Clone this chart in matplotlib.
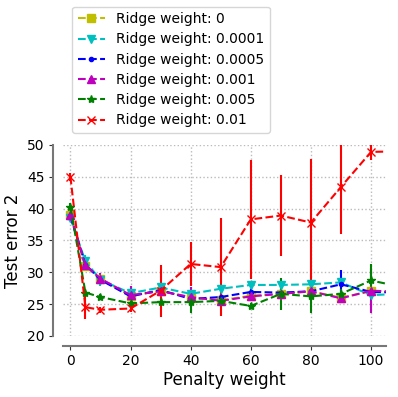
import matplotlib
matplotlib.use("Agg")
import matplotlib.pyplot as plt
from matplotlib.lines import Line2D

# penalty weights (last point lies past the visible range)
penalty = [0, 5, 10, 20, 30, 40, 50, 60, 70, 80, 90, 100, 110]

labels = ['Ridge weight: 0', 'Ridge weight: 0.0001', 'Ridge weight: 0.0005',
          'Ridge weight: 0.001', 'Ridge weight: 0.005', 'Ridge weight: 0.01']

err_r0 = [39.0, 31.0, 28.9, 26.3, 27.1, 26.0, 25.6, 26.3, 26.6, 27.0, 26.0, 27.0, 26.9]
std_r0 = [0.5, 0.6, 0.6, 0.5, 0.5, 0.5, 0.5, 0.5, 0.5, 0.5, 0.5, 0.5, 0.5]

err_r1 = [38.5, 31.7, 28.8, 26.7, 27.6, 26.6, 27.4, 28.0, 28.0, 28.1, 28.4, 26.4, 26.6]
std_r1 = [0.5, 1.0, 1.0, 1.2, 0.5, 0.6, 0.5, 0.6, 0.5, 0.5, 0.5, 0.5, 0.5]

err_r2 = [38.8, 31.2, 28.8, 26.2, 27.2, 25.8, 26.1, 26.9, 26.8, 27.0, 28.1, 26.9, 26.8]
std_r2 = [0.5, 0.6, 0.6, 0.5, 0.5, 0.5, 0.5, 0.5, 0.5, 0.5, 2.2, 0.5, 0.5]

err_r3 = [39.0, 31.1, 29.0, 26.4, 27.0, 26.1, 25.5, 26.2, 26.6, 27.0, 25.9, 27.1, 26.9]
std_r3 = [0.5, 0.8, 0.8, 1.5, 0.5, 1.5, 1.0, 0.7, 0.6, 0.5, 0.6, 3.5, 0.5]

err_r4 = [40.3, 26.8, 26.1, 25.1, 25.3, 25.3, 25.5, 24.7, 26.6, 26.2, 26.6, 28.7, 27.7]
std_r4 = [0.5, 0.5, 0.4, 0.5, 0.6, 1.7, 0.8, 0.5, 2.5, 2.6, 0.7, 2.6, 0.5]

err_r5 = [45.0, 24.5, 24.1, 24.3, 27.1, 31.3, 30.8, 38.3, 38.9, 37.8, 43.4, 48.9, 49.0]
std_r5 = [0.6, 1.8, 0.5, 0.6, 4.1, 3.5, 7.7, 9.3, 6.3, 10.0, 7.4, 1.2, 1.0]

means = [err_r0, err_r1, err_r2, err_r3, err_r4, err_r5]
stds = [std_r0, std_r1, std_r2, std_r3, std_r4, std_r5]
colors = ['y', 'c', 'b', 'm', 'g', 'r']
markers = ['s', 'v', '.', '^', '*', 'x']

fig = plt.figure(figsize=(3.98, 3.97), dpi=100)
ax = fig.add_axes([0.158, 0.154, 0.812, 0.481])

handles = []
for m, s, c, mk, lab in zip(means, stds, colors, markers, labels):
    ax.errorbar(penalty, m, yerr=s, color=c, marker=mk, linestyle='--',
                linewidth=1.5, markersize=6, elinewidth=1.5, capsize=0)
    handles.append(Line2D([], [], color=c, marker=mk, linestyle='--',
                          linewidth=1.5, markersize=6, label=lab))

ax.set_xlim(-2.5, 105)
ax.set_ylim(20, 50)
ax.set_xticks([0, 20, 40, 60, 80, 100])
ax.set_yticks([20, 25, 30, 35, 40, 45, 50])
ax.grid(True, linestyle=':', color='#bbbbbb', linewidth=1)
ax.set_xlabel('Penalty weight', fontsize=12, labelpad=2)
ax.set_ylabel('Test error 2', fontsize=12, labelpad=4)
ax.tick_params(labelsize=10, length=3, pad=3, color='#333333')

for side in ['top', 'right']:
    ax.spines[side].set_visible(False)
for side in ['left', 'bottom']:
    ax.spines[side].set_position(('outward', 7))
    ax.spines[side].set_color('#777777')
    ax.spines[side].set_linewidth(1.5)

fig.legend(handles=handles, loc='lower left',
           bbox_to_anchor=(72 / 398, 1 - 133 / 397),
           fontsize=10, borderaxespad=0, labelspacing=0.45)

fig.savefig('out.png', dpi=100)
